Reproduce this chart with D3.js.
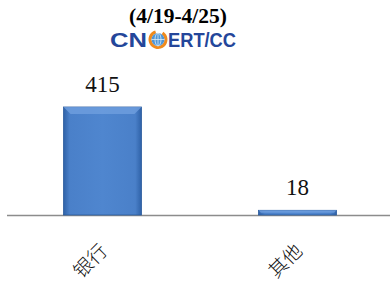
<!DOCTYPE html>
<html>
<head>
<meta charset="utf-8">
<script src="https://cdn.jsdelivr.net/npm/d3@7"></script>
<style>
  body { margin: 0; background: #fff; }
  svg { display: block; }
</style>
</head>
<body>
<div id="chart"></div>
<script>
// categories and values
var categories = ["银行", "其他"];
var counts = [415, 18];
var titleText = "(4/19-4/25)";

var svgWidth = 390;
var svgHeight = 281;
var axisY = 215;

var svg = d3.select("#chart")
  .append("svg")
  .attr("width", svgWidth)
  .attr("height", svgHeight);

// gradient for the bevelled bars
var defs = svg.append("defs");
var gH = defs.append("linearGradient").attr("id", "barH").attr("x1", "0").attr("x2", "1").attr("y1", "0").attr("y2", "0");
gH.append("stop").attr("offset", "0").attr("stop-color", "#2f62a8");
gH.append("stop").attr("offset", "0.08").attr("stop-color", "#4a80c9");
gH.append("stop").attr("offset", "0.5").attr("stop-color", "#4f86cf");
gH.append("stop").attr("offset", "0.92").attr("stop-color", "#4a80c9");
gH.append("stop").attr("offset", "1").attr("stop-color", "#2f62a8");

var x = d3.scaleBand()
  .domain(categories)
  .range([5, 395])
  .paddingInner(0.6)
  .paddingOuter(0.3);

var y = d3.scaleLinear()
  .domain([0, 415])
  .range([axisY, 107]);

// axis line
svg.append("line")
  .attr("x1", 7).attr("x2", 390)
  .attr("y1", axisY + 0.5).attr("y2", axisY + 0.5)
  .attr("stroke", "#8c8c8c")
  .attr("stroke-width", 1.5);

var bars = svg.selectAll(".bar")
  .data(counts)
  .enter()
  .append("g")
  .attr("class", "bar");

bars.append("rect")
  .attr("x", (d, i) => x(categories[i]))
  .attr("y", d => y(d))
  .attr("width", x.bandwidth())
  .attr("height", d => axisY - y(d))
  .attr("fill", "url(#barH)")
  .attr("stroke", "#2a5a9c")
  .attr("stroke-width", 0.8);

// top bevel highlight
bars.append("polygon")
  .attr("points", function(d, i) {
    var x0 = x(categories[i]), x1 = x0 + x.bandwidth(), t = y(d);
    var b = Math.min(7, (axisY - t) / 2);
    return [[x0, t], [x1, t], [x1 - b, t + b], [x0 + b, t + b]].join(" ");
  })
  .attr("fill", "#6f9fde")
  .attr("opacity", 0.8);

// value labels
svg.selectAll(".val")
  .data(counts)
  .enter()
  .append("text")
  .attr("class", "val")
  .attr("x", (d, i) => x(categories[i]) + x.bandwidth() / 2)
  .attr("y", d => y(d) - 15)
  .attr("text-anchor", "middle")
  .attr("font-family", "Liberation Serif, serif")
  .attr("font-size", 23)
  .attr("fill", "#111")
  .text(d => d);

// category labels rotated
svg.selectAll(".cat")
  .data(categories)
  .enter()
  .append("text")
  .attr("class", "cat")
  .attr("text-anchor", "end")
  .attr("font-family", "Noto Sans CJK SC, sans-serif")
  .attr("font-size", 19)
  .attr("font-weight", 300)
  .attr("fill", "#111")
  .attr("transform", d => `translate(${x(d) + x.bandwidth() / 2 + 6}, ${252}) rotate(-45)`)
  .text(d => d);

// title
svg.append("text")
  .attr("x", 178)
  .attr("y", 23)
  .attr("text-anchor", "middle")
  .attr("font-family", "Liberation Serif, serif")
  .attr("font-weight", "bold")
  .attr("font-size", 21.5)
  .attr("fill", "#000")
  .text(titleText);

// CNCERT/CC logo
var logo = svg.append("g").attr("transform", "translate(110, 47)");
logo.append("text")
  .attr("x", 0).attr("y", 0)
  .attr("font-family", "Liberation Sans, Arial, sans-serif")
  .attr("font-weight", "bold")
  .attr("font-size", 21)
  .attr("textLength", 37)
  .attr("lengthAdjust", "spacingAndGlyphs")
  .attr("fill", "#24469a")
  .text("CN");
var globe = logo.append("g").attr("transform", "translate(48, -7.5)");
globe.append("path")
  .attr("d", d3.arc()({ innerRadius: 6.5, outerRadius: 9.5, startAngle: 0.6, endAngle: 2 * Math.PI - 0.3 }))
  .attr("fill", "#f08a1c");
globe.append("circle").attr("r", 6.5).attr("fill", "#4f95d6");
globe.append("ellipse").attr("rx", 3).attr("ry", 6.5).attr("fill", "none").attr("stroke", "#dcecf8").attr("stroke-width", 0.8);
globe.append("line").attr("x1", -6.5).attr("x2", 6.5).attr("y1", 0).attr("y2", 0).attr("stroke", "#dcecf8").attr("stroke-width", 0.8);
globe.append("line").attr("x1", 0).attr("x2", 0).attr("y1", -6.5).attr("y2", 6.5).attr("stroke", "#dcecf8").attr("stroke-width", 0.8);
logo.append("text")
  .attr("x", 58).attr("y", 0)
  .attr("font-family", "Liberation Sans, Arial, sans-serif")
  .attr("font-weight", "bold")
  .attr("font-size", 21)
  .attr("textLength", 68)
  .attr("lengthAdjust", "spacingAndGlyphs")
  .attr("fill", "#24469a")
  .text("ERT/CC");
</script>
</body>
</html>
